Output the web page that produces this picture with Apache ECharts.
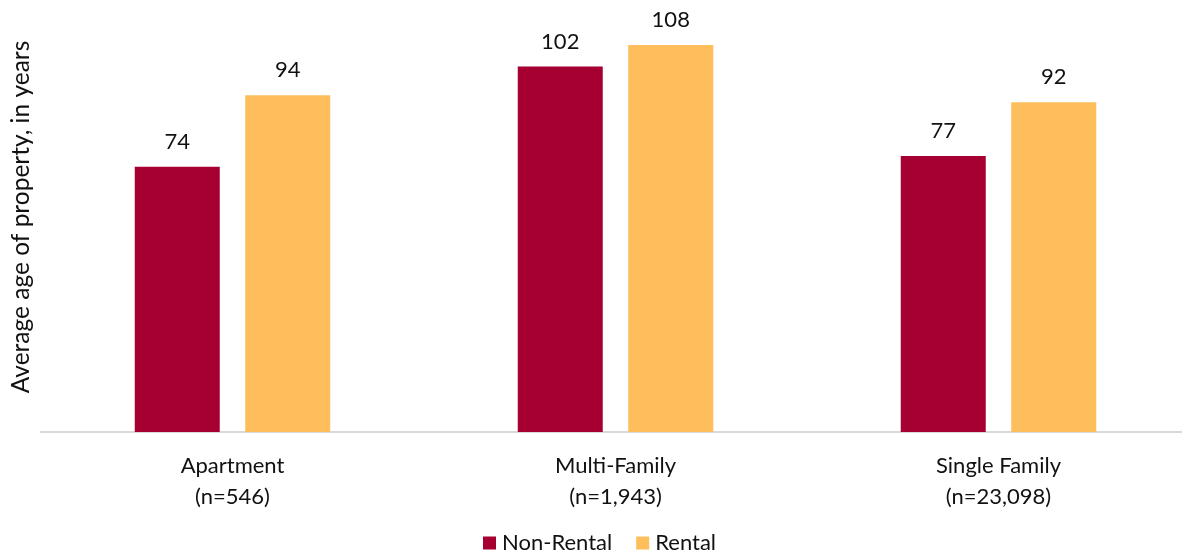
<!DOCTYPE html>
<html>
<head>
<meta charset="utf-8">
<script src="https://cdn.jsdelivr.net/npm/echarts@6/dist/echarts.min.js"></script>
<style>
  html, body { margin: 0; padding: 0; background: #fff; }
  #chart { width: 1182px; height: 558px; }
</style>
</head>
<body>
<div id="chart"></div>
<script>
// Property types with sample sizes
const categories = ['Apartment\n(n=546)', 'Multi-Family\n(n=1,943)', 'Single Family\n(n=23,098)'];
// Average age of property, in years
const nonRental = [74, 102, 77];
const rental = [94, 108, 92];
const seriesNames = ['Non-Rental', 'Rental'];

const FONT = 'Lato, "Open Sans", sans-serif';
const chart = echarts.init(document.getElementById('chart'));

const valueLabel = {
  show: true,
  position: 'top',
  distance: 14,
  color: '#111',
  fontFamily: FONT,
  fontSize: 22
};

chart.setOption({
  animation: false,
  grid: { left: 41, top: 2, width: 1149, bottom: 126, containLabel: false, outerBoundsMode: 'none' },
  legend: {
    data: seriesNames,
    bottom: -1,
    left: 478,
    itemWidth: 13,
    itemHeight: 13,
    itemGap: 24,
    icon: 'rect',
    textStyle: { fontFamily: FONT, fontSize: 22, color: '#111', padding: [0, 0, 0, 1] }
  },
  xAxis: {
    type: 'category',
    data: categories,
    axisLine: { show: true, lineStyle: { color: '#d9d9d9', width: 2 } },
    axisTick: { show: false },
    axisLabel: {
      margin: 18,
      lineHeight: 31,
      color: '#111',
      fontFamily: FONT,
      fontSize: 22
    }
  },
  yAxis: {
    type: 'value',
    min: 0,
    max: 120,
    interval: 20,
    name: 'Average age of property, in years',
    nameLocation: 'middle',
    nameGap: 7,
    nameTextStyle: { color: '#111', fontFamily: FONT, fontSize: 24.5 },
    axisLine: { show: false },
    axisTick: { show: false },
    axisLabel: { show: false },
    splitLine: { show: false }
  },
  series: [
    {
      name: seriesNames[0],
      type: 'bar',
      data: nonRental,
      barWidth: 85,
      barGap: '30%',
      itemStyle: { color: '#A50031' },
      label: valueLabel
    },
    {
      name: seriesNames[1],
      type: 'bar',
      data: rental,
      barWidth: 85,
      itemStyle: { color: '#FEBE5B' },
      label: valueLabel
    }
  ]
});
</script>
</body>
</html>
